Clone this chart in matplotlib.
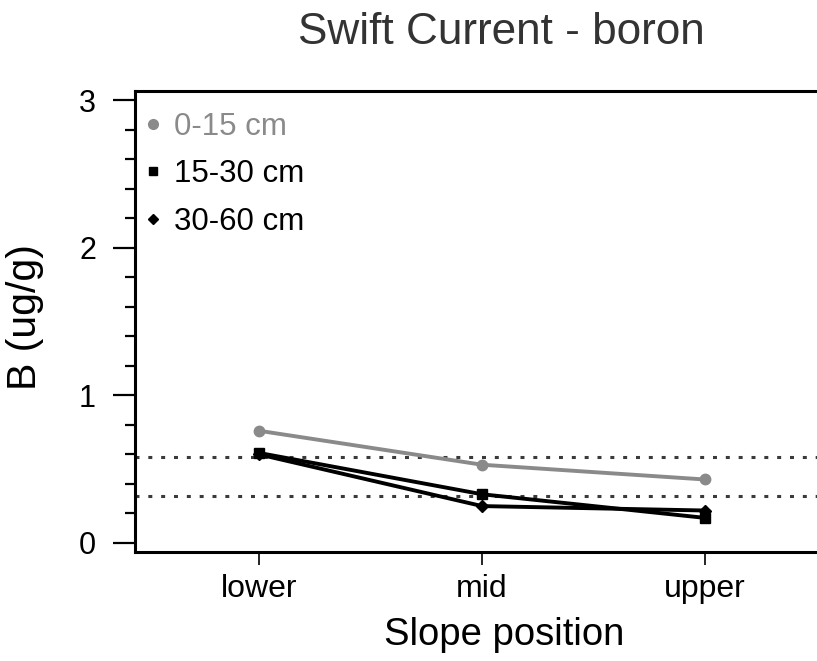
import matplotlib
matplotlib.use("Agg")
import matplotlib.pyplot as plt
from matplotlib.lines import Line2D
from matplotlib.ticker import MultipleLocator

plt.rcParams['font.family'] = ['Liberation Sans', 'DejaVu Sans']

# Boron by slope position and depth
positions = ['lower', 'mid', 'upper']
b_0_15 = [0.76, 0.53, 0.43]
b_15_30 = [0.61, 0.33, 0.17]
b_30_60 = [0.60, 0.25, 0.22]
ref_lines = [0.584, 0.32]

x = list(range(len(positions)))

fig = plt.figure(figsize=(8.17, 6.61), dpi=100)
ax = fig.add_axes([135 / 817, 1 - 552 / 661, 1 - 135 / 817, (552 - 91) / 661])

gray = '#8a8a8a'
for y in ref_lines:
    ax.axhline(y, color='#3a3a3a', lw=2.2, linestyle=(0, (1.3, 2.9)), dash_capstyle='butt', zorder=1)

ax.plot(x, b_0_15, color=gray, lw=2.8, marker='o', ms=7.5, zorder=3)
ax.plot(x, b_15_30, color='black', lw=2.8, marker='s', ms=6.5, zorder=3)
ax.plot(x, b_30_60, color='black', lw=2.8, marker='D', ms=6, zorder=3)

ax.set_xlim(-0.556, 2.502)
ax.set_ylim(-0.061, 3.061)
ax.set_xticks(x)
ax.set_xticklabels(positions)
ax.set_yticks([0, 1, 2, 3])
ax.yaxis.set_minor_locator(MultipleLocator(0.2))

for s in ['left', 'bottom', 'top']:
    ax.spines[s].set_linewidth(2.2)
ax.spines['right'].set_visible(False)

ax.tick_params(axis='y', which='major', length=16, width=1.6, pad=12, labelsize=22)
ax.tick_params(axis='y', which='minor', length=7.5, width=1.6)
ax.tick_params(axis='x', which='major', length=9.5, width=1.2, pad=6, labelsize=23)

handles = [
    Line2D([], [], color=gray, marker='o', ls='none', ms=7),
    Line2D([], [], color='black', marker='s', ls='none', ms=6),
    Line2D([], [], color='black', marker='D', ms=5.5, ls='none'),
]
ax.legend(handles, ['0-15 cm', '15-30 cm', '30-60 cm'], loc='upper left',
          bbox_to_anchor=(-0.02, 1.002), frameon=False, fontsize=22.5,
          labelcolor=[gray, 'black', 'black'], handlelength=0.6,
          handletextpad=0.38, labelspacing=0.555, borderpad=0.2)

fig.text(501 / 817, 1 - 33 / 661, 'Swift Current - boron', ha='center', va='center',
         fontsize=31.8, color='#333333')
fig.text(504 / 817, 1 - 635 / 661, 'Slope position', ha='center', va='center', fontsize=27.5)
fig.text(25 / 817, 1 - 317 / 661, 'B (ug/g)', ha='center', va='center', rotation=90, fontsize=29.5)

plt.savefig('out.png', dpi=100)
